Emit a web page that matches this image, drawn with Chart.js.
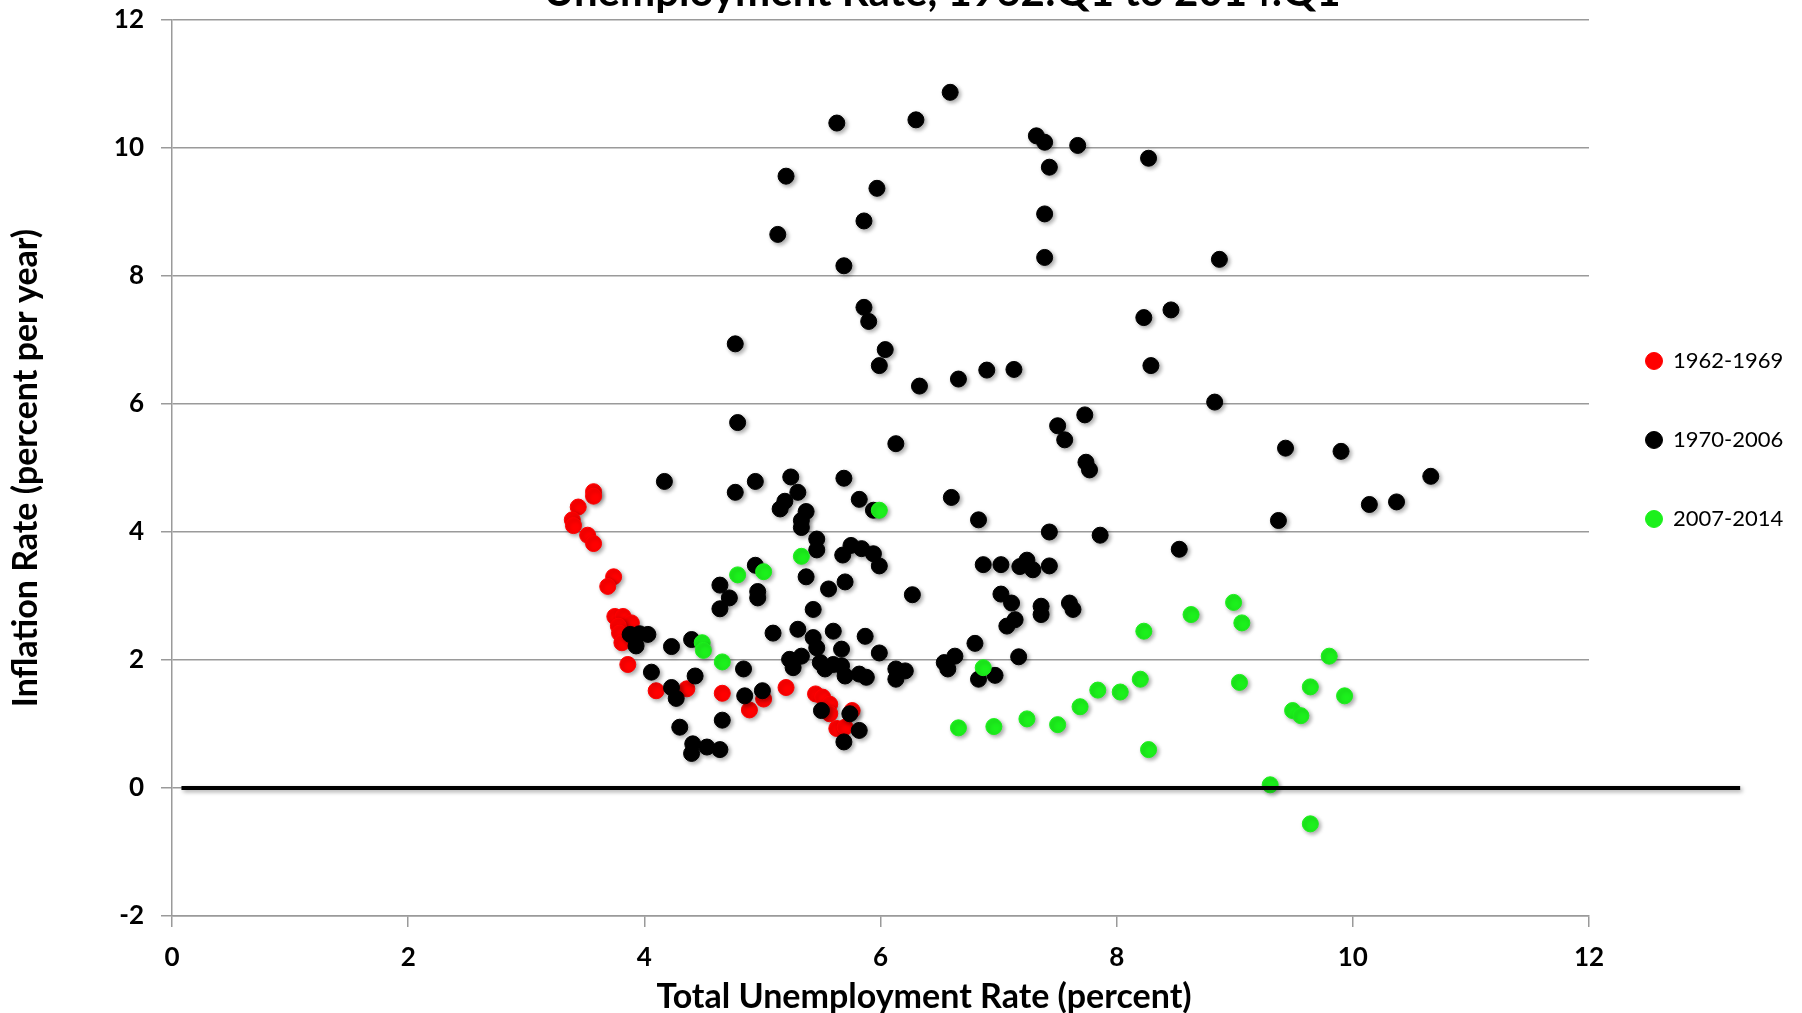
<!DOCTYPE html>
<html><head><meta charset="utf-8">
<script src="https://cdn.jsdelivr.net/npm/chart.js@4.4.1/dist/chart.umd.min.js"></script>
<style>html,body{margin:0;padding:0;background:#fff;overflow:hidden}canvas{display:block}</style>
</head><body>
<canvas id="c" width="1802" height="1013"></canvas>
<script>
const titleText = 'Unemployment Rate, 1962:Q1 to 2014:Q1';
const xAxisTitle = 'Total Unemployment Rate (percent)';
const yAxisTitle = 'Inflation Rate (percent per year)';
const seriesNames = ['1962-1969', '1970-2006', '2007-2014'];
const xTicks = [0, 2, 4, 6, 8, 10, 12];
const yTicks = [-2, 0, 2, 4, 6, 8, 10, 12];
const zeroLineX = [0.08, 13.28];
const zeroLineY = [0, 0];

const unemp1 = [3.57,3.57,3.44,3.39,3.40,3.52,3.57,3.74,3.69,3.75,3.82,3.89,3.78,3.79,3.81,3.86,4.10,4.36,4.66,4.89,5.01,5.20,5.45,5.51,5.57,5.57,5.63,5.70,5.76];
const infl1  = [4.63,4.56,4.39,4.19,4.10,3.95,3.82,3.30,3.15,2.68,2.68,2.58,2.53,2.42,2.27,1.93,1.52,1.55,1.48,1.22,1.39,1.57,1.47,1.42,1.31,1.16,0.93,0.95,1.21];

const unemp2 = [5.63,6.30,6.59,5.20,5.97,5.86,5.13,5.69,5.86,5.90,4.77,6.04,5.99,6.33,6.66,6.90,4.79,
  7.32,7.39,7.67,7.43,8.27,7.39,7.39,8.87,8.23,8.46,7.13,8.29,8.83,7.73,7.50,7.56,
  6.13,7.74,7.77,9.43,9.90,10.66,6.60,6.83,9.37,10.14,10.37,7.43,7.86,8.53,6.87,7.02,7.18,7.24,7.29,7.43,
  7.02,7.11,7.14,7.07,7.36,7.36,7.60,7.63,6.80,6.63,6.57,6.54,7.17,6.83,6.97,
  4.17,4.77,4.94,5.24,5.30,5.19,5.15,5.37,5.33,5.33,5.69,5.82,5.94,5.46,5.46,5.68,5.75,5.84,5.94,5.99,
  4.94,4.96,4.96,4.64,4.72,4.64,5.37,5.70,5.56,5.43,6.27,5.09,5.30,5.43,5.46,5.60,5.67,5.87,5.99,
  5.23,5.26,5.33,5.49,5.53,5.60,5.67,5.70,5.82,5.88,6.13,6.21,6.13,3.88,3.96,4.03,3.93,4.23,4.40,
  4.06,4.23,4.27,4.43,4.84,4.85,5.00,4.66,4.30,4.41,4.40,4.53,4.64,5.50,5.74,5.82,5.69];
const infl2  = [10.39,10.44,10.87,9.56,9.37,8.86,8.65,8.16,7.51,7.29,6.94,6.85,6.60,6.28,6.39,6.53,5.71,
  10.19,10.09,10.04,9.70,9.84,8.97,8.29,8.26,7.35,7.47,6.54,6.60,6.03,5.83,5.66,5.44,
  5.38,5.09,4.97,5.31,5.26,4.87,4.54,4.19,4.18,4.43,4.47,4.00,3.95,3.73,3.49,3.49,3.46,3.56,3.41,3.47,
  3.03,2.89,2.63,2.53,2.84,2.71,2.89,2.79,2.26,2.06,1.86,1.96,2.05,1.70,1.76,
  4.79,4.62,4.79,4.86,4.62,4.48,4.36,4.32,4.18,4.07,4.84,4.51,4.34,3.89,3.72,3.64,3.79,3.74,3.66,3.47,
  3.48,3.07,2.97,3.17,2.97,2.80,3.30,3.22,3.11,2.79,3.02,2.42,2.48,2.35,2.19,2.45,2.17,2.37,2.11,
  2.01,1.88,2.06,1.96,1.86,1.93,1.91,1.75,1.78,1.73,1.86,1.83,1.70,2.40,2.41,2.40,2.22,2.21,2.32,
  1.81,1.57,1.40,1.75,1.86,1.44,1.52,1.06,0.95,0.69,0.54,0.64,0.60,1.21,1.16,0.90,0.72];

const unemp3 = [4.79,5.01,5.33,4.49,4.50,4.66,5.99,6.87,6.66,6.96,7.24,7.50,7.69,7.84,8.03,8.20,8.23,8.27,8.63,8.99,9.06,9.04,9.30,9.49,9.56,9.64,9.80,9.93,9.64];
const infl3  = [3.33,3.38,3.62,2.27,2.15,1.97,4.34,1.88,0.94,0.96,1.08,0.99,1.27,1.53,1.50,1.70,2.45,0.60,2.71,2.90,2.58,1.65,0.05,1.21,1.13,1.58,2.06,1.44,-0.56];

const colors = ['#ff0000', '#000000', '#1cf01c'];

function pts(xs, ys) { return xs.map((x, i) => ({x: x, y: ys[i]})); }

const FONT = 'Lato';

const shadowPlugin = {
  id: 'markerShadow',
  beforeDatasetsDraw(chart) {
    const c = chart.ctx; c.save();
    c.shadowColor = 'rgba(0,0,0,0.35)'; c.shadowBlur = 4; c.shadowOffsetX = 2; c.shadowOffsetY = 2;
  },
  afterDatasetsDraw(chart) { chart.ctx.restore(); }
};

const textPlugin = {
  id: 'extraTexts',
  afterDraw(chart) {
    const c = chart.ctx; const a = chart.chartArea;
    c.save();
    c.fillStyle = '#000'; c.textAlign = 'center'; c.textBaseline = 'alphabetic';
    c.font = 'bold 42px ' + FONT;
    c.fillText(titleText, a.left + 770, 6);
    c.font = 'bold 34px ' + FONT;
    c.fillText(xAxisTitle, a.left + 752, 1008);
    c.restore();
  }
};

function build() {
  new Chart(document.getElementById('c'), {
    type: 'scatter',
    data: {
      datasets: [
        {label: seriesNames[0], data: pts(unemp1, infl1), backgroundColor: colors[0], borderColor: colors[0], borderWidth: 1, pointRadius: 8, pointHoverRadius: 8, order: 3},
        {label: seriesNames[1], data: pts(unemp2, infl2), backgroundColor: colors[1], borderColor: colors[1], borderWidth: 1, pointRadius: 8, pointHoverRadius: 8, order: 2},
        {label: seriesNames[2], data: pts(unemp3, infl3), backgroundColor: colors[2], borderColor: colors[2], borderWidth: 1, pointRadius: 8, pointHoverRadius: 8, order: 1},
        {label: 'zero', type: 'line', data: pts(zeroLineX, zeroLineY), borderColor: '#000', backgroundColor: '#000', borderWidth: 4, pointRadius: 0, showLine: true, clip: false, order: 0}
      ]
    },
    options: {
      responsive: false,
      animation: false,
      events: [],
      layout: {padding: {left: 0, right: 13, top: 20, bottom: 0}},
      plugins: {
        tooltip: {enabled: false},
        title: {display: false},
        legend: {
          position: 'right', align: 'start', fullSize: false, maxWidth: 200,
          title: {display: true, text: '', font: {size: 10}, padding: {top: 261, bottom: 0}},
          labels: {
            usePointStyle: true, pointStyle: 'circle', boxWidth: 16, boxHeight: 12, padding: 57,
            color: '#000', font: {family: FONT, size: 22},
            filter: (item) => item.datasetIndex < 3,
            sort: (a, b) => a.datasetIndex - b.datasetIndex
          }
        }
      },
      scales: {
        x: {
          type: 'linear', min: xTicks[0], max: xTicks[xTicks.length - 1],
          afterBuildTicks: (s) => { s.ticks = xTicks.map(v => ({value: v})); },
          afterFit: (s) => { s.height = 97; },
          grid: {drawOnChartArea: false, drawTicks: true, tickLength: 11, color: '#9a9a9a', lineWidth: 1.5},
          border: {display: true, color: '#9a9a9a', width: 1.5},
          ticks: {padding: 15, color: '#000', maxRotation: 0, font: {family: FONT, size: 26, weight: 'bold'}},
          title: {display: false}
        },
        y: {
          type: 'linear', min: yTicks[0], max: yTicks[yTicks.length - 1],
          afterBuildTicks: (s) => { s.ticks = yTicks.map(v => ({value: v})); },
          afterFit: (s) => { s.width = 172; s.paddingTop = 0; s.paddingBottom = 0; },
          grid: {drawTicks: true, tickLength: 11, color: '#9a9a9a', lineWidth: 1.5},
          border: {display: true, color: '#9a9a9a', width: 1.5},
          ticks: {padding: 17, color: '#000', font: {family: FONT, size: 26, weight: 'bold'}},
          title: {display: true, text: yAxisTitle, color: '#000', font: {family: FONT, size: 34, weight: 'bold'}, padding: {top: 6, bottom: 0}}
        }
      }
    },
    plugins: [shadowPlugin, textPlugin]
  });
}

const fl = document.fonts ? Promise.all([
  document.fonts.load('bold 26px Lato'), document.fonts.load('22px Lato')
]).catch(() => {}) : Promise.resolve();
fl.then(build, build);
</script>
</body></html>
